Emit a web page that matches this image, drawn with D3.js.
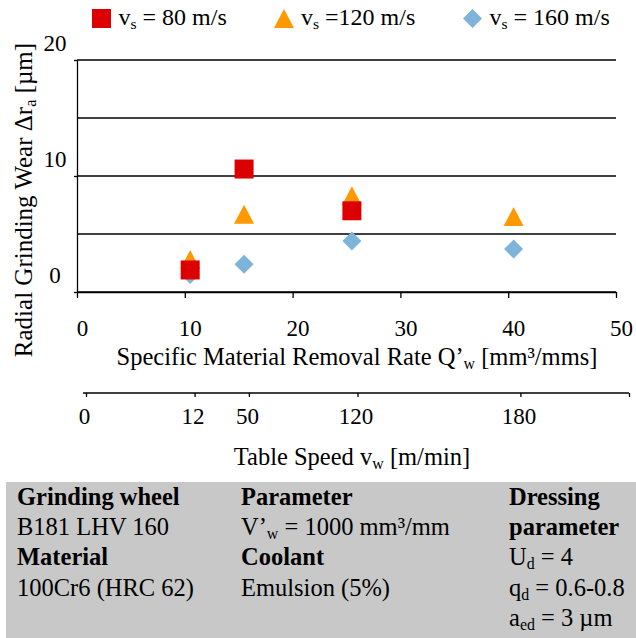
<!DOCTYPE html>
<html>
<head>
<meta charset="utf-8">
<script src="https://cdn.jsdelivr.net/npm/d3@7"></script>
<style>
    body { margin: 0; background: #fff; }
    svg text { font-family: "Liberation Serif", "Times New Roman", serif; fill: #000; }
</style>
</head>
<body>
<div id="chart"></div>
<script>
// data
var qRate = [10.5, 15.5, 25.5, 40.5];          // Q'w of the measured points
var wear80 = [1.9, 10.6, 7.0, null];           // vs = 80 m/s
var wear120 = [2.8, 6.7, 8.3, 6.5];            // vs = 120 m/s
var wear160 = [1.5, 2.4, 4.4, 3.7];            // vs = 160 m/s
var qTicks = [0, 10, 20, 30, 40, 50];
var wearTicks = [0, 10, 20];
var gridValues = [0, 5, 10, 15, 20];
var speedPos = [0, 10, 15, 25, 40, 50];        // Q'w position of each table speed
var speedLabels = ["0", "12", "50", "120", "180", ""];
var legendLabels = [" = 80 m/s", " =120 m/s", " = 160 m/s"];
var colors = ["#dd0000", "#ff9900", "#7fb4da"];

var width = 636,
    height = 638;

var svg = d3.select("#chart").append("svg")
    .attr("width", width)
    .attr("height", height);

var x = d3.scaleLinear().domain([0, 50]).range([77, 616]);
var y = d3.scaleLinear().domain([0, 20]).range([292, 60]);
var x2 = d3.scaleLinear().domain([0, 50]).range([86, 629]);

// marker shapes
var shapes = {
    square: "M-9.5,-9.5H9.5V9.5H-9.5Z",
    triangle: "M0,-9.5L10,9.5L-10,9.5Z",
    diamond: "M0,-9.5L9.5,0L0,9.5L-9.5,0Z"
};

// helper for text with sub/superscripts
function richText(sel, parts, size) {
    parts.forEach(function (p) {
        var t = sel.append("tspan").text(p[0]);
        if (p[1] == "sub") {
            t.attr("font-size", size * 0.65).attr("baseline-shift", "-25%");
        } else if (p[1] == "bsub") {
            t.attr("font-size", size * 0.65).attr("dy", 5);
        } else if (p[1] == "back") {
            t.attr("dy", -5);
        }
    });
}

// gridlines
svg.append("g").selectAll("line")
    .data(gridValues)
    .enter().append("line")
    .attr("x1", x(0))
    .attr("x2", x(50))
    .attr("y1", function (d) { return y(d); })
    .attr("y2", function (d) { return y(d); })
    .attr("stroke", "#000")
    .attr("stroke-width", 1.3);

// y axis
svg.append("g")
    .attr("transform", "translate(" + x(0) + ",0)")
    .call(d3.axisLeft(y).tickValues(wearTicks).tickSize(3).tickSizeOuter(0))
    .call(function (g) {
        g.select(".domain").attr("stroke", "#000").attr("stroke-width", 1.3);
        g.selectAll(".tick line").attr("stroke", "#000").attr("stroke-width", 1.3);
        g.selectAll("text")
            .attr("x", -22)
            .attr("y", -17)
            .attr("dy", "0.34em")
            .attr("text-anchor", "middle")
            .attr("font-size", 23)
            .attr("font-family", null);
    });

// x axis (Q'w)
svg.append("g")
    .attr("transform", "translate(0," + y(0) + ")")
    .call(d3.axisBottom(x).tickValues(qTicks).tickSize(6).tickSizeOuter(0))
    .call(function (g) {
        g.select(".domain").attr("stroke", "#000").attr("stroke-width", 1.3);
        g.selectAll(".tick line").attr("stroke", "#000").attr("stroke-width", 1.3);
        g.selectAll("text")
            .attr("x", 5)
            .attr("y", 44)
            .attr("dy", null)
            .attr("font-size", 23)
            .attr("font-family", null);
    });

// second x axis (table speed)
svg.append("g")
    .attr("transform", "translate(0,393)")
    .call(d3.axisBottom(x2).tickValues(speedPos).tickSize(4).tickSizeOuter(0)
        .tickFormat(function (d, i) { return speedLabels[i]; }))
    .call(function (g) {
        g.select(".domain").attr("d", "M" + (x2(0) - 3) + ",0H" + x2(50))
            .attr("stroke", "#000").attr("stroke-width", 1.3);
        g.selectAll(".tick line").attr("stroke", "#000").attr("stroke-width", 1.3);
        g.selectAll("text")
            .attr("x", -2)
            .attr("y", 31)
            .attr("dy", null)
            .attr("font-size", 23)
            .attr("font-family", null);
    });

// axis titles
var yTitle = svg.append("text")
    .attr("transform", "translate(32,200) rotate(-90)")
    .attr("text-anchor", "middle")
    .attr("font-size", 25);
richText(yTitle, [["Radial Grinding Wear \u0394r"], ["a", "sub"], [" [\u00b5m]"]], 25);

var xTitle = svg.append("text")
    .attr("x", 357)
    .attr("y", 365)
    .attr("text-anchor", "middle")
    .attr("font-size", 24.5);
richText(xTitle, [["Specific Material Removal Rate Q\u2019"], ["w", "sub"], [" [mm\u00b3/mms]"]], 24.5);

var x2Title = svg.append("text")
    .attr("x", 352)
    .attr("y", 465)
    .attr("text-anchor", "middle")
    .attr("font-size", 24.5);
richText(x2Title, [["Table Speed v"], ["w", "sub"], [" [m/min]"]], 24.5);

// markers: diamonds below, then triangles, squares on top
var series = [
    {values: wear160, shape: "diamond", color: colors[2]},
    {values: wear120, shape: "triangle", color: colors[1]},
    {values: wear80, shape: "square", color: colors[0]}
];

series.forEach(function (s) {
    var pts = qRate.map(function (q, i) { return {q: q, v: s.values[i]}; })
        .filter(function (d) { return d.v != null; });
    svg.append("g").selectAll("path")
        .data(pts)
        .enter().append("path")
        .attr("d", shapes[s.shape])
        .attr("transform", function (d) {
            return "translate(" + x(d.q) + "," + y(d.v) + ")";
        })
        .attr("fill", s.color);
});

// legend
var legendX = [101.5, 284, 472.5];
var legendShape = ["square", "triangle", "diamond"];
var legend = svg.append("g");
legendLabels.forEach(function (lab, i) {
    legend.append("path")
        .attr("d", shapes[legendShape[i]])
        .attr("transform", "translate(" + legendX[i] + ",18.5)")
        .attr("fill", colors[i]);
    var t = legend.append("text")
        .attr("x", legendX[i] + 17)
        .attr("y", 25)
        .attr("font-size", 24);
    richText(t, [["v"], ["s", "sub"], [lab]], 24);
});

// info box
var boxRows = [
    [{t: [["Grinding wheel"]], b: true}, {t: [["Parameter"]], b: true}, {t: [["Dressing"]], b: true}],
    [{t: [["B181 LHV 160"]]}, {t: [["V\u2019"], ["w", "sub"], [" = 1000 mm\u00b3/mm"]]}, {t: [["parameter"]], b: true}],
    [{t: [["Material"]], b: true}, {t: [["Coolant"]], b: true}, {t: [["U"], ["d", "sub"], [" = 4"]]}],
    [{t: [["100Cr6 (HRC 62)"]]}, {t: [["Emulsion (5%)"]]}, {t: [["q"], ["d", "sub"], [" = 0.6-0.8"]]}],
    [null, null, {t: [["a"], ["ed", "sub"], [" = 3 \u00b5m"]]}]
];
var colX = [17, 241, 509];

svg.append("rect")
    .attr("x", 6)
    .attr("y", 482)
    .attr("width", width - 6)
    .attr("height", height - 482)
    .attr("fill", "#c8c8c8");

boxRows.forEach(function (row, r) {
    row.forEach(function (cell, c) {
        if (!cell) return;
        var t = svg.append("text")
            .attr("x", colX[c])
            .attr("y", 505 + r * 30.2)
            .attr("font-size", 24.5)
            .attr("font-weight", cell.b ? "bold" : null);
        richText(t, cell.t, 24.5);
    });
});
</script>
</body>
</html>
